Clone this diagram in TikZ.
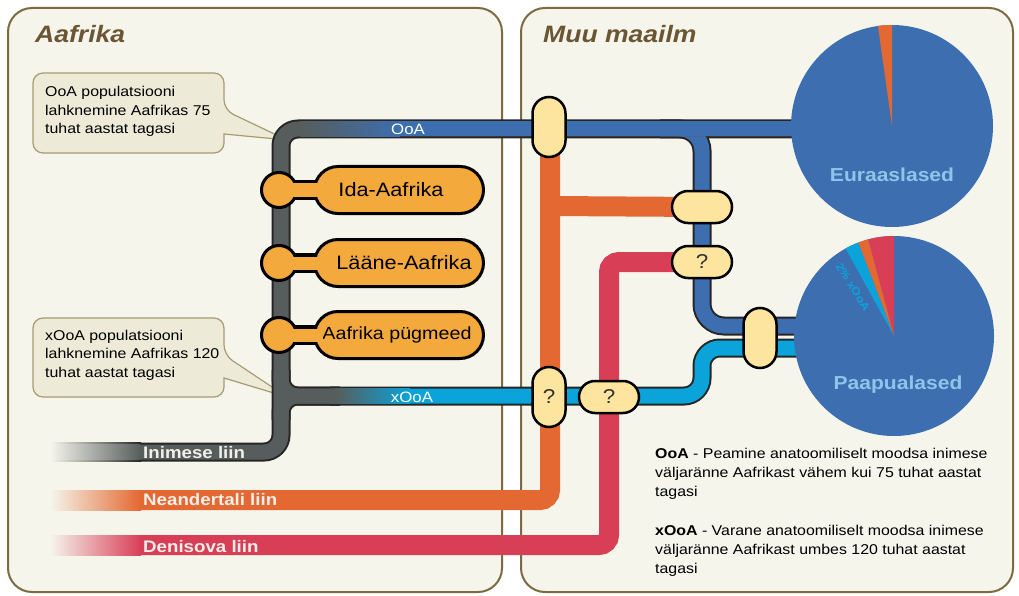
\documentclass[tikz,border=0pt]{standalone}
\usepackage{fontspec}
\setmainfont{Liberation Sans}[FakeStretch=1.12]
\definecolor{panelbg}{HTML}{F5F5EC}
\definecolor{panelbd}{HTML}{7D6A42}
\definecolor{titlec}{HTML}{6B5633}
\definecolor{callbg}{HTML}{EDEBD8}
\definecolor{callbd}{HTML}{A89A72}
\definecolor{grayl}{HTML}{575D5C}
\definecolor{bluel}{HTML}{3D6EAF}
\definecolor{lbluel}{HTML}{0AA3DA}
\definecolor{orangel}{HTML}{E36831}
\definecolor{redl}{HTML}{D83F56}
\definecolor{afr}{HTML}{F4A93D}
\definecolor{pillc}{HTML}{FDE59F}
\definecolor{pielab}{HTML}{8EC5E8}
\definecolor{linelab}{HTML}{F2EEEA}
\newcommand{\fsz}[1]{\fontsize{#1}{#1}\selectfont}
\begin{document}
\begin{tikzpicture}[x=1pt,y=-1pt,
  panel/.style={draw=panelbd, line width=2, fill=panelbg, rounded corners=24},
  titletext/.style={anchor=base west, inner sep=0, text=titlec, font=\fsz{23.7}\bfseries\itshape},
  callout/.style={draw=callbd, line width=1.2, fill=callbg},
  ctext/.style={anchor=base west, inner sep=0, font=\fsz{14.2}},
  outl/.style={line width=19, draw=black!85},
  inl/.style={line width=15},
  thick line/.style={line width=20},
  vpill/.style={draw=black, line width=2.5, fill=pillc, minimum width=33, minimum height=60, rounded corners=16.5, inner sep=0, font=\fsz{20}, text=black!80},
  hpill/.style={draw=black, line width=2.5, fill=pillc, minimum width=60, minimum height=32, rounded corners=16, inner sep=0, font=\fsz{20}, text=black!80},
  afrbox/.style={draw=black, line width=3, fill=afr, rounded corners=23.5, minimum width=169, minimum height=47, inner sep=0, font=\fsz{19.4}},
  afrdot/.style={circle, draw=black, line width=3, fill=afr, minimum size=35, inner sep=0},
  linetext/.style={anchor=base west, inner sep=0, text=linelab, font=\fsz{16.7}\bfseries},
  pielabel/.style={inner sep=0, text=pielab, font=\fsz{18.8}\bfseries},
  legend/.style={anchor=base west, inner sep=0, font=\fsz{14.2}},
]
\useasboundingbox (0,0) rectangle (1019,596);
\fill[white] (0,0) rectangle (1019,596);
% panels
\draw[panel] (8,8) rectangle (502,592);
\draw[panel] (521,8) rectangle (1013,592);
\node[titletext] (tafr) at (35,43) {Aafrika};
\node[titletext] (tmuu) at (543,43) {Muu maailm};
% callouts
\draw[callout] (33,113) [rounded corners=10] -- (33,73) -- (224,73) -- (224,110) [sharp corners] -- (287,140) -- (224,134) [rounded corners=10] -- (224,153) -- (33,153) -- cycle;
\draw[callout] (33,357) [rounded corners=10] -- (33,318) -- (224,318) -- (224,355) [sharp corners] -- (287,397) -- (224,378) [rounded corners=10] -- (224,397) -- (33,397) -- cycle;
\node[ctext] (ca1) at (45,97) {OoA populatsiooni};
\node[ctext] (ca2) at (45,115.5) {lahknemine Aafrikas 75};
\node[ctext] (ca3) at (45,134) {tuhat aastat tagasi};
\node[ctext] (cb1) at (45,340) {xOoA populatsiooni};
\node[ctext] (cb2) at (45,358.5) {lahknemine Aafrikas 120};
\node[ctext] (cb3) at (45,377) {tuhat aastat tagasi};
% junction coordinates
\coordinate (p1) at (549,127);
\coordinate (p2) at (702,207);
\coordinate (p3) at (702,262);
\coordinate (p4) at (760,338);
\coordinate (p5) at (549,397);
\coordinate (p6) at (609,397);
\coordinate (eurc) at (892,126);
\coordinate (papc) at (894,336);
% orange and red lines
\shade[left color=panelbg, right color=orangel] (50,490) rectangle (141,510);
\shade[left color=panelbg, right color=redl] (50,535) rectangle (141,555);
\draw[thick line, orangel, rounded corners=10] (140,500) -- (550,500) -- (550,140);
\draw[thick line, orangel] (550,206) -- (p2);
\draw[thick line, redl, rounded corners=10] (140,545) -- (609,545) -- (609,262) -- (p3);
% grey / blue network outlines
\shade[left color=panelbg, right color=black!85] (50,442.5) rectangle (141,461.5);
\shade[left color=panelbg, right color=grayl] (50,444.5) rectangle (141,459.5);
\draw[outl, rounded corners=17] (140,452) -- (281,452) -- (281,129) -- (800,129);
\draw[outl, rounded corners=22] (660,129) -- (702,129) -- (702,326) -- (800,326);
\draw[outl, rounded corners=17] (281,370) -- (281,396) -- (340,396);
\draw[outl, rounded corners=17] (281,420) -- (281,396) -- (340,396);
\draw[outl, rounded corners=18] (330,396) -- (702,396) -- (702,348) -- (800,348);
% inner fills
\draw[inl, bluel, rounded corners=22] (660,129) -- (702,129) -- (702,326) -- (800,326);
\draw[inl, lbluel, rounded corners=18] (330,396) -- (702,396) -- (702,348) -- (800,348);
\draw[inl, grayl, rounded corners=17] (140,452) -- (281,452) -- (281,129) -- (800,129);
\draw[inl, grayl, rounded corners=17] (281,370) -- (281,396) -- (340,396);
\draw[inl, grayl, rounded corners=17] (281,420) -- (281,396) -- (340,396);
\draw[inl, bluel] (330,129) -- (800,129);
\shade[left color=grayl, right color=bluel] (300,121.5) rectangle (400,136.5);
\shade[left color=grayl, right color=lbluel] (335,388.5) rectangle (410,403.5);
\node[inner sep=0, text=white, font=\fsz{15}] (looa) at (408,129) {OoA};
\node[inner sep=0, text=white, font=\fsz{15}] (lxooa) at (412,397) {xOoA};
% line labels
\node[linetext] (linim) at (143,458) {Inimese liin};
\node[linetext] (lnean) at (143,505) {Neandertali liin};
\node[linetext] (lden) at (143,552) {Denisova liin};
% pills
\node[vpill] (P1) at (p1) {};
\node[hpill] (P2) at (p2) {};
\node[hpill] (P3) at (p3) {?};
\node[vpill] (P4) at (p4) {};
\node[vpill] (P5) at (p5) {?};
\node[hpill] (P6) at (p6) {?};
% pies
\node[circle, fill=bluel, minimum size=202, inner sep=0] (eur) at (eurc) {};
\fill[orangel] (eur.center) -- ++(-90:101) arc[start angle=-90, end angle=-98, radius=101] -- cycle;
\node[pielabel] (leur) at (892,175) {Euraaslased};
\node[circle, fill=bluel, minimum size=200, inner sep=0] (pap) at (papc) {};
\fill[redl] (pap.center) -- ++(-90:100) arc[start angle=-90, end angle=-105, radius=100] -- cycle;
\fill[orangel] (pap.center) -- ++(-105:100) arc[start angle=-105, end angle=-111, radius=100] -- cycle;
\fill[lbluel] (pap.center) -- ++(-111:100) arc[start angle=-111, end angle=-119, radius=100] -- cycle;
\node[inner sep=0, text=lbluel, font=\fsz{11}\bfseries, rotate=-58] (lpct) at (853,287) {2\%~xOoA};
\node[pielabel] (lpap) at (898,385) {Paapualased};
% Africa populations
\foreach \nm/\yy/\txt/\fs/\ls/\rs in {ida/190/Ida-Aafrika/19.4/0/16, laane/263/Lääne-Aafrika/19.4/10/0, pyg/335/Aafrika pügmeed/17.6/0/4}{
  \coordinate (\nm c) at (279,\yy);
  \draw[line width=20, black] (\nm c) -- (320,\yy);
  \node[afrdot] (\nm dot) at (279,\yy) {};
  \node[afrbox, font=\fsz{\fs}] (\nm) at (399,\yy) {\hspace*{\ls pt}\txt\hspace*{\rs pt}};
  \draw[line width=13, afr] (\nm dot.center) -- ([xshift=10pt]\nm.west);
}
% legend
\node[legend] (g1) at (655,458) {\textbf{OoA} - Peamine anatoomiliselt moodsa inimese};
\node[legend] (g2) at (655,477) {väljaränne Aafrikast vähem kui 75 tuhat aastat};
\node[legend] (g3) at (655,496) {tagasi};
\node[legend] (g4) at (655,535) {\textbf{xOoA} - Varane anatoomiliselt moodsa inimese};
\node[legend] (g5) at (655,554) {väljaränne Aafrikast umbes 120 tuhat aastat};
\node[legend] (g6) at (655,573) {tagasi};
\end{tikzpicture}
\end{document}
